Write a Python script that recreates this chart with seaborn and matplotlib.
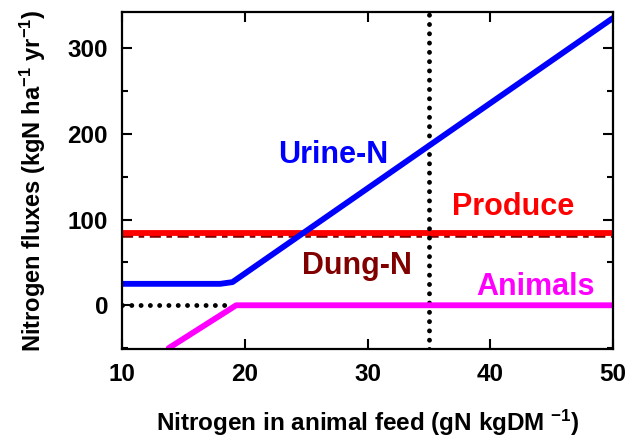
import matplotlib
matplotlib.use("Agg")
import matplotlib.pyplot as plt
import seaborn as sns
from matplotlib.ticker import MultipleLocator

sns.set_theme(style="ticks")
plt.rcParams['font.family'] = ['Liberation Sans', 'DejaVu Sans']
plt.rcParams['font.weight'] = 'bold'
plt.rcParams['mathtext.fontset'] = 'custom'
plt.rcParams['mathtext.rm'] = 'Liberation Sans:bold'
plt.rcParams['mathtext.bf'] = 'Liberation Sans:bold'
plt.rcParams['mathtext.default'] = 'bf'
plt.rcParams['text.color'] = 'black'
plt.rcParams['axes.labelcolor'] = 'black'
plt.rcParams['xtick.color'] = 'black'
plt.rcParams['ytick.color'] = 'black'
plt.rcParams['xtick.labelcolor'] = 'black'
plt.rcParams['ytick.labelcolor'] = 'black'

# data
urine_x = [10, 18, 19, 50]
urine_y = [25, 25, 27, 335]
animals_x = [13.8, 19.3, 50]
animals_y = [-50, 0, 0]
produce_x = [10, 50]
produce_y = [84, 84]
dung_x = [10, 50]
dung_y = [81.5, 81.5]
zero_x = [10, 19]
zero_y = [0, 0]
vline_x = 35

fig = plt.figure(figsize=(6.3, 4.4), dpi=100)
ax = fig.add_axes([122/630, 1-349/440, (613-122)/630, (349-12)/440])

dots = (0, (0.01, 1.9))
sns.lineplot(x=dung_x, y=dung_y, ax=ax, color='#800000', lw=4, linestyle=(0, (2, 1, 1, 1)))
sns.lineplot(x=produce_x, y=produce_y, ax=ax, color='#ff0000', lw=4.2)
sns.lineplot(x=zero_x, y=zero_y, ax=ax, color='black', lw=3.5, linestyle=dots, dash_capstyle='round')
ax.axvline(vline_x, color='black', lw=3.5, linestyle=dots, dash_capstyle='round')
sns.lineplot(x=urine_x, y=urine_y, ax=ax, color='#0000ff', lw=4.2)
sns.lineplot(x=animals_x, y=animals_y, ax=ax, color='#ff00ff', lw=4.2, solid_capstyle='round')

ax.set_xlim(10, 50)
ax.set_ylim(-51, 342)
ax.xaxis.set_major_locator(MultipleLocator(10))
ax.yaxis.set_major_locator(MultipleLocator(100))
ax.yaxis.set_minor_locator(MultipleLocator(50))
ax.tick_params(which='both', direction='in', top=True, right=True, width=1.5, color='black')
ax.tick_params(which='major', length=7, labelsize=17.5, labelcolor='black')
ax.tick_params(axis='x', which='major', pad=10)
ax.tick_params(axis='y', which='major', pad=10)
ax.tick_params(which='minor', length=4)
for s in ax.spines.values():
    s.set_linewidth(1.6)
    s.set_color('black')
for lab in ax.get_xticklabels() + ax.get_yticklabels():
    lab.set_fontweight('bold')

ax.set_xlabel('Nitrogen in animal feed (gN kgDM $^{-1}$)', fontsize=17.5, fontweight='bold', labelpad=16, color='black')
ax.set_ylabel('Nitrogen fluxes (kgN ha$^{-1}$ yr$^{-1}$)', fontsize=17, fontweight='bold', labelpad=14, color='black')

ax.text(27.2, 165.7, 'Urine-N', color='#0000ff', fontsize=22, fontweight='bold', ha='center', va='baseline')
ax.text(41.85, 105, 'Produce', color='#ff0000', fontsize=22, fontweight='bold', ha='center', va='baseline')
ax.text(29.1, 37, 'Dung-N', color='#800000', fontsize=22, fontweight='bold', ha='center', va='baseline')
ax.text(43.7, 11.7, 'Animals', color='#ff00ff', fontsize=22, fontweight='bold', ha='center', va='baseline')

fig.savefig('out.png', dpi=100)
